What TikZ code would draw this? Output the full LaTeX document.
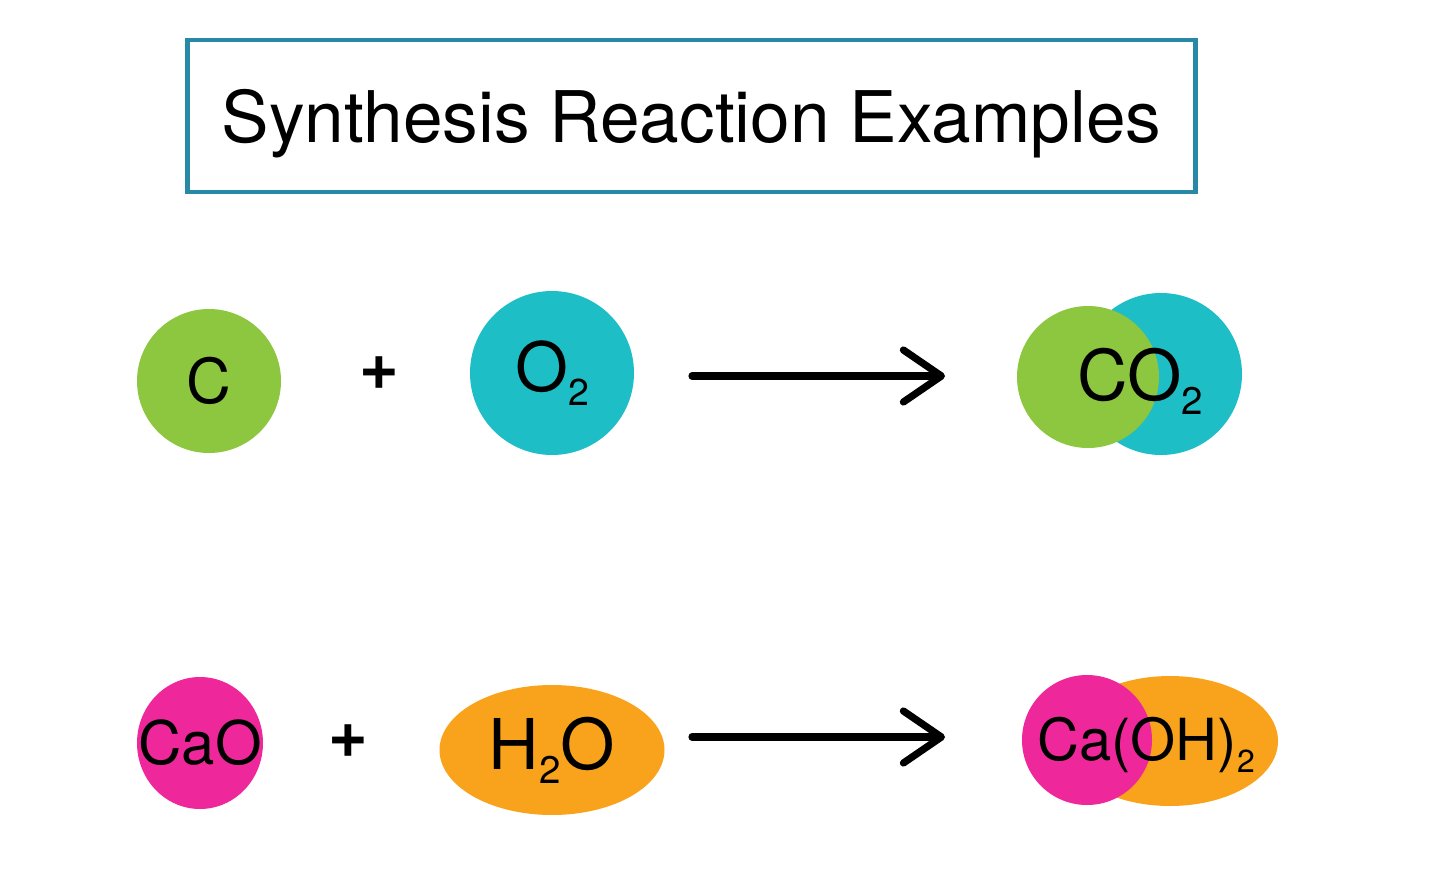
\documentclass[tikz,border=0pt]{standalone}
\usepackage{fontspec}
\setmainfont{TeX Gyre Heros}
\usetikzlibrary{arrows.meta,shapes.geometric}

\definecolor{carbon}{RGB}{141,198,63}
\definecolor{oxygen}{RGB}{30,190,198}
\definecolor{calcium}{RGB}{238,40,155}
\definecolor{water}{RGB}{248,163,27}
\definecolor{frame}{RGB}{40,137,166}

\newcommand\fsz[1]{\fontsize{#1}{#1}\selectfont}
\newcommand\molsub[1]{\raisebox{-0.2em}{\scalebox{0.55}{#1}}}

\tikzset{
  mol/.style={draw=none, inner sep=0pt, text=black},
  atom/.style={mol, circle},
  blob/.style={mol, ellipse},
  plus/.style={inner sep=0pt, font=\fsz{34}\bfseries},
  react/.style={line width=3.6pt, line cap=round,
    -{Straight Barb[length=19pt,width=26pt,round]}},
}

\begin{document}
\begin{tikzpicture}[x=0.5pt,y=-0.5pt]
\useasboundingbox (0,0) rectangle (1440,878);

% title
\node[draw=frame, line width=2.2pt, minimum width=504pt, minimum height=76pt,
  text depth=0pt, font=\fsz{35.6}] (title) at (691.5,116) {Synthesis Reaction Examples};

% C + O2 -> CO2
\node[atom, fill=carbon, minimum size=72pt, font=\fsz{31}] (c) at (209,381) {C};
\node[plus] (plus1) at (379,373) {+};
\node[atom, fill=oxygen, minimum size=82pt, font=\fsz{34}] (o2) at (552,373) {O\molsub{2}};

\coordinate (r1s) at (692,376);
\coordinate (r1e) at (945,376);
\draw[react] (r1s) -- (r1e);

\node[atom, fill=oxygen, minimum size=81pt] (co2o) at (1161,374) {};
\node[atom, fill=carbon, minimum size=71pt] (co2c) at (1088,377) {};
\node[font=\fsz{35}] (co2) at (1140,381) {CO\molsub{2}};

% CaO + H2O -> Ca(OH)2
\node[blob, fill=calcium, minimum width=63pt, minimum height=66pt,
  label={[font=\fsz{30}]center:CaO}] (cao) at (200,743) {};
\node[plus] (plus2) at (348,741) {+};
\node[blob, fill=water, minimum width=112.5pt, minimum height=65pt,
  font=\fsz{35}] (h2o) at (552,750) {H\molsub{2}O};

\coordinate (r2s) at (692,737);
\coordinate (r2e) at (945,737);
\draw[react] (r2s) -- (r2e);

\node[blob, fill=water, minimum width=108pt, minimum height=65pt] (caoh2w) at (1170,741) {};
\node[atom, fill=calcium, minimum size=65pt] (caoh2c) at (1087,740) {};
\node[font=\fsz{29}] (caoh2) at (1146,745) {Ca(OH)\molsub{2}};

\end{tikzpicture}
\end{document}
